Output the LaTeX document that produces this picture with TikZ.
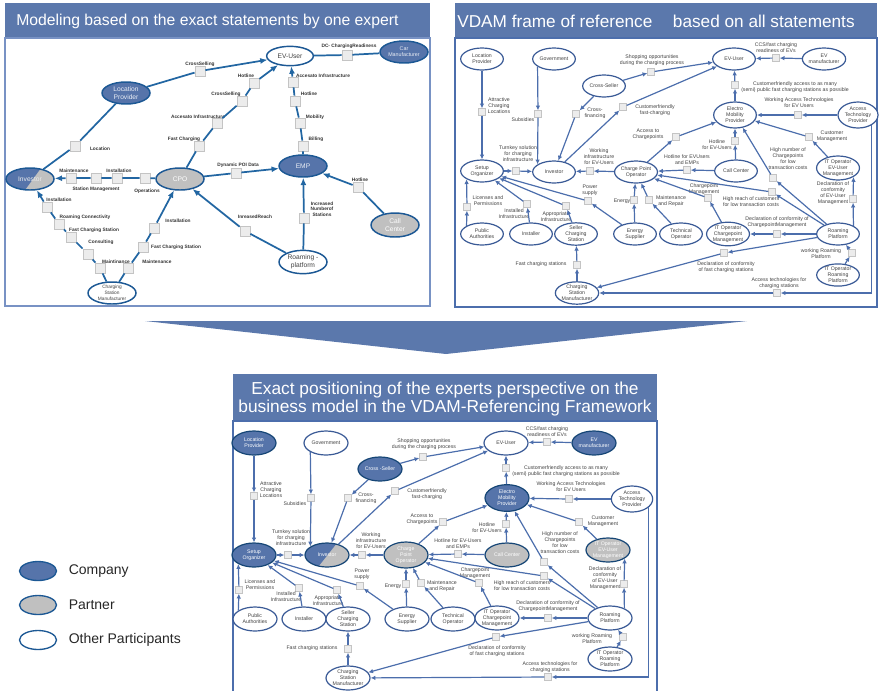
\documentclass[tikz,border=0pt]{standalone}
\usepackage{fontspec}
\setmainfont{Liberation Sans}
\usetikzlibrary{positioning,arrows.meta,calc,shapes.geometric}

\definecolor{colHdr}{RGB}{91,120,172}
\definecolor{colFrame}{RGB}{120,146,196}
\definecolor{colComp}{RGB}{86,116,170}
\definecolor{colPart}{RGB}{192,192,192}
\definecolor{colLineA}{RGB}{34,102,162}
\definecolor{colBordA}{RGB}{28,88,148}
\definecolor{colLineB}{RGB}{76,110,172}
\definecolor{colBordB}{RGB}{58,90,150}
\definecolor{colSqF}{RGB}{236,236,236}
\definecolor{colSqD}{RGB}{196,196,196}
\definecolor{colTxt}{RGB}{66,66,66}

\begin{document}
\begin{tikzpicture}[x=0.75pt, y=-0.75pt,
  ttl/.style={font=\fontsize{11.8}{14}\selectfont, text=white, inner sep=0pt, align=center},
  ndA/.style={ellipse, draw=colBordA, line width=1.1pt, fill=white, minimum width=36pt, minimum height=16.5pt, inner sep=0pt, align=center, text=colTxt, font=\fontsize{5}{5.8}\selectfont},
  compA/.style={ndA, fill=colComp, text=white!88!colComp},
  partA/.style={ndA, fill=colPart, text=white},
  splitA/.style={ndA, fill=colPart, text=white!85!gray,
    path picture={\fill[colComp] (path picture bounding box.south west) -- ($(path picture bounding box.south)+(-5,0)$) -- ($(path picture bounding box.north)+(11,0)$) -- (path picture bounding box.north west) -- cycle;}},
  sqA/.style={draw=colSqD, fill=colSqF, line width=0.6pt, minimum size=7.5pt, inner sep=0pt},
  arrA/.style={draw=colLineA, line width=1.3pt, -{Latex[length=5.5pt,width=4.5pt]}},
  lnA/.style={draw=colLineA, line width=1.3pt},
  labA/.style={font=\fontsize{3.6}{4.2}\selectfont\bfseries, text=black!80, align=center, inner sep=0pt},
  ndB/.style={ellipse, draw=colBordB, line width=0.9pt, fill=white, minimum width=32pt, minimum height=16.5pt, inner sep=0pt, align=center, text=colTxt, font=\fontsize{3.9}{4.5}\selectfont},
  ndC/.style={ndB, minimum width=33pt, minimum height=18pt},
  compC/.style={ndC, fill=colComp, draw=colBordA!80!black, text=white},
  partC/.style={ndC, fill=colPart, draw=colBordA!80!black, text=white},
  splitC/.style={ndC, fill=colPart, draw=colBordA!80!black, text=white,
    path picture={\fill[colComp] (path picture bounding box.south west) -- ($(path picture bounding box.south)+(-9,0)$) -- ($(path picture bounding box.north)+(10,0)$) -- (path picture bounding box.north west) -- cycle;}},
  sqB/.style={draw=colSqD, fill=colSqF, line width=0.5pt, minimum size=5pt, inner sep=0pt},
  arr/.style={draw=colLineB, line width=0.9pt, -{Latex[length=3.6pt,width=3.4pt]}},
  lab/.style={font=\fontsize{3.9}{4.5}\selectfont, text=colTxt, align=center, inner sep=0pt},
  legnd/.style={ellipse, draw=colBordA, line width=1pt, minimum width=27.75pt, minimum height=14.25pt},
  legtxt/.style={font=\fontsize{10.5}{12}\selectfont, text=black!85, inner sep=0pt}
]
  \useasboundingbox (0,0) rectangle (880,690);

  % Panels
  \fill[colHdr] (5,3) rectangle (430,38);
  \draw[colFrame, line width=1.1pt] (5,38) rectangle (430,306);
  \node[ttl, anchor=west] (t1) at (16,21) {Modeling based on the exact statements by one expert};
  \fill[colHdr] (455,3) rectangle (877,38);
  \draw[colLineB, line width=1.1pt] (455,38) rectangle (877,307);
  \node[ttl, font=\fontsize{12.9}{14}\selectfont] (t2) at (656,21) {VDAM frame of reference\hspace{1.2em}based on all statements};
  \fill[colHdr] (233,374) rectangle (657,421);
  \draw[colLineB, line width=1.1pt] (233,421) rectangle (657,700);
  \node[ttl, font=\fontsize{13}{13.8}\selectfont] (t3) at (445,399) {Exact positioning of the experts perspective on the\\business model in the VDAM-Referencing Framework};
  \fill[colHdr] (145,321) -- (747,321) -- (446,354) -- cycle;

  % Legend
  \node[legnd, fill=colComp] (k1) at (38,571) {};
  \node[legtxt, right=8.5pt of k1] (k1t) {Company};
  \node[legnd, fill=colPart] (k2) at (38,605) {};
  \node[legtxt, right=8.5pt of k2] (k2t) {Partner};
  \node[legnd, fill=white] (k3) at (38,640) {};
  \node[legtxt, right=8.5pt of k3] (k3t) {Other Participants};

  % One expert
  \node[ndA, minimum width=35pt, minimum height=14.5pt] (aev) at (290,56) {EV-User};
  \node[compA, font=\fontsize{4}{4.6}\selectfont] (acar) at (404,52) {Car\\Manufacturer};
  \node[compA] (alp) at (126,93) {Location\\Provider};
  \node[splitA] (ainv) at (30,179) {Investor};
  \node[partA] (acpo) at (180,179) {CPO};
  \node[compA] (aemp) at (303,166) {EMP};
  \node[partA, minimum height=18pt] (acall) at (395,225) {Call\\Center};
  \node[ndA, minimum height=17.5pt] (aroam) at (303,262) {Roaming -\\platform};
  \node[ndA, font=\fontsize{3.6}{4.3}\selectfont] (acsm) at (112,293) {Charging\\Station\\Manufacturer};

  \node[sqA] (aq1) at (200,71) {};   \node[labA] (al1) at (200,64) {CrossSelling};
  \node[sqA] (aq2) at (254,83) {};   \node[labA] (al2) at (246,76) {Hotline};
  \node[sqA] (aq3) at (242,101) {};  \node[labA] (al3) at (226,94) {CrossSelling};
  \node[sqA] (aq4) at (217,123) {};  \node[labA] (al4) at (198,117) {Accesato Infrastructure};
  \node[sqA] (aq5) at (199,146) {};  \node[labA] (al5) at (184,139) {Fast Charging};
  \node[sqA] (aq6) at (293,82) {};   \node[labA] (al6) at (323,76) {Accesato Infrastructure};
  \node[sqA] (aq7) at (295,101) {};  \node[labA] (al7) at (309,94) {Hotline};
  \node[sqA] (aq8) at (300,123) {};  \node[labA] (al8) at (315,117) {Mobility};
  \node[sqA] (aq9) at (303,146) {};  \node[labA] (al9) at (316,139) {Billing};
  \node[sqA] (aq10) at (347,55) {};  \node[labA] (al10) at (349,46) {DC- ChargingReadiness};
  \node[sqA] (aq11) at (75,146) {};  \node[labA] (al11) at (100,149) {Location};
  \node[sqA] (aq12) at (71,178) {};  \node[labA] (al12) at (74,171) {Maintenance};
  \node[sqA] (aq13) at (96,178) {};  \node[labA] (al13) at (96,189) {Station Management};
  \node[sqA] (aq14) at (117,178) {}; \node[labA] (al14) at (119,171) {Installation};
  \node[sqA] (aq15) at (145,178) {}; \node[labA] (al15) at (147,191) {Operations};
  \node[sqA] (aq16) at (236,173) {}; \node[labA] (al16) at (238,165) {Dynamic POI Data};
  \node[sqA] (aq17) at (358,187) {}; \node[labA] (al17) at (360,180) {Hotline};
  \node[sqA] (aq18) at (304,218) {}; \node[labA] (al18) at (322,209) {Increased\\Numberof\\Stations};
  \node[sqA] (aq19) at (245,231) {}; \node[labA] (al19) at (255,217) {InreasedReach};
  \node[sqA] (aq20) at (47,207) {};  \node[labA] (al20) at (59,200) {Installation};
  \node[sqA] (aq21) at (59,224) {};  \node[labA] (al21) at (85,217) {Roaming Connectivity};
  \node[sqA] (aq22) at (71,237) {};  \node[labA] (al22) at (94,230) {Fast Charging Station};
  \node[sqA] (aq23) at (88,254) {};  \node[labA] (al23) at (101,242) {Consulting};
  \node[sqA] (aq24) at (100,268) {}; \node[labA] (al24) at (116,262) {Maintinance};
  \node[sqA] (aq25) at (128,268) {}; \node[labA] (al25) at (157,262) {Maintenance};
  \node[sqA] (aq26) at (143,247) {}; \node[labA] (al26) at (176,247) {Fast Charging Station};
  \node[sqA] (aq27) at (154,228) {}; \node[labA] (al27) at (178,221) {Installation};

  \draw[arrA] (alp) -- (aq1) -- (aev);
  \draw[arrA] (acpo) -- (aq5) -- (aq4) -- (aq3) -- (aq2) -- (aev);
  \draw[arrA] (aemp) -- (aq9) -- (aq8) -- (aq7) -- (aq6) -- (aev);
  \draw[lnA] (acar) -- (aq10) -- (aev);
  \draw[lnA] (alp) -- (aq11) -- (ainv);
  \draw[arrA] (acpo) -- (aq15) -- (aq14) -- (aq13) -- (aq12) -- (ainv);
  \draw[arrA] (acpo) -- (aq16) -- (aemp);
  \draw[arrA] (acall) -- (aq17) -- (aemp);
  \draw[arrA] (aroam) -- (aq18) -- (aemp);
  \draw[arrA] (aroam) -- (aq19) -- (acpo);
  \draw[arrA] (acsm) -- (aq24) -- (aq23) -- (aq22) -- (aq21) -- (aq20) -- (ainv);
  \draw[arrA] (acsm) -- (aq25) -- (aq26) -- (aq27) -- (acpo);

  % VDAM frame
  \node[ndB] (blp) at (482,59) {Location\\Provider};
  \node[ndB] (bgov) at (554,59) {Government};
  \node[ndB] (bcs) at (604,86) {Cross-Seller};
  \node[ndB] (bev) at (734,59) {EV-User};
  \node[ndB] (bevm) at (824,59) {EV\\manufacturer};
  \node[ndB, minimum height=19.5pt] (bemp) at (735,115) {Electro\\Mobility\\Provider};
  \node[ndB, minimum width=30pt, minimum height=19.5pt] (batp) at (858,115) {Access\\Technology\\Provider};
  \node[ndB, minimum height=18pt] (bitev) at (838,168) {IT Operator\\EV-User\\Management};
  \node[ndB] (bcall) at (736,171) {Call Center};
  \node[ndB] (bso) at (482,171) {Setup\\Organizer};
  \node[ndB] (binv) at (554,172) {Investor};
  \node[ndB] (bcpo) at (636,172) {Charge Point\\Operator};
  \node[ndB] (bpa) at (482,234) {Public\\Authorities};
  \node[ndB] (binst) at (531,234) {Installer};
  \node[ndB] (bscs) at (576,234) {Seller\\Charging\\Station};
  \node[ndB] (bes) at (635,234) {Energy\\Supplier};
  \node[ndB] (bto) at (681,234) {Technical\\Operator};
  \node[ndB] (bitcm) at (728,234) {IT Operator\\Chargepoint\\Management};
  \node[ndB] (brp) at (838,234) {Roaming\\Platform};
  \node[ndB] (bitrp) at (838,275) {IT Operator\\Roaming\\Platform};
  \node[ndB] (bcsm) at (577,293) {Charging\\Station\\Manufacturer};

  \node[sqB] (b1) at (482,112) {};  \node[lab] (bl1) at (499,106) {Attractive\\Charging\\Locations};
  \node[sqB] (b2) at (538,114) {};  \node[lab] (bl2) at (523,120) {Subsidies};
  \node[sqB] (b3) at (576,114) {};  \node[lab] (bl3) at (595,113) {Cross-\\financing};
  \node[sqB] (b4) at (651,72) {};   \node[lab] (bl4) at (652,60) {Shopping opportunities\\during the charging process};
  \node[sqB] (b5) at (623,107) {};  \node[lab] (bl5) at (655,110) {Customerfriendly\\fast-charging};
  \node[sqB] (b6) at (776,58) {};   \node[lab] (bl6) at (776,48) {CCS/fast charging\\readiness of EVs};
  \node[sqB] (b7) at (735,85) {};   \node[lab] (bl7) at (795,87) {Customerfriendly access to as many\\(semi) public fast charging stations as possible};
  \node[sqB] (b8) at (798,115) {};  \node[lab] (bl8) at (799,103) {Working Access Technologies\\for EV Users};
  \node[sqB] (b9) at (809,137) {};  \node[lab] (bl9) at (832,136) {Customer\\Management};
  \node[sqB] (b10) at (735,141) {}; \node[lab] (bl10) at (717,145) {Hotline\\for EV-Users};
  \node[sqB] (b11) at (676,137) {}; \node[lab] (bl11) at (648,134) {Access to\\Chargepoints};
  \node[sqB] (b12) at (773,178) {}; \node[lab] (bl12) at (788,159) {High number of\\Chargepoints\\for low\\transaction costs};
  \node[sqB] (b13) at (772,192) {}; \node[lab] (bl13) at (751,202) {High reach of customers\\for low transaction costs};
  \node[sqB] (b14) at (687,170) {}; \node[lab] (bl14) at (687,160) {Hotline for EVUsers\\and EMPs};
  \node[sqB] (b15) at (590,171) {}; \node[lab] (bl15) at (599,157) {Working\\infrastructure\\for EV-Users};
  \node[sqB] (b16) at (516,171) {}; \node[lab] (bl16) at (518,154) {Turnkey solution\\for charging\\infrastructure};
  \node[sqB] (b17) at (467,207) {}; \node[lab] (bl17) at (488,201) {Licenses and\\Permissions};
  \node[sqB] (b18) at (527,204) {}; \node[lab] (bl18) at (514,214) {Installed\\Infrastructure};
  \node[sqB] (b19) at (566,206) {}; \node[lab] (bl19) at (556,217) {Appropriate\\Infrastructure};
  \node[sqB] (b20) at (588,201) {}; \node[lab] (bl20) at (590,190) {Power\\supply};
  \node[sqB] (b21) at (634,200) {}; \node[lab] (bl21) at (622,201) {Energy};
  \node[sqB] (b22) at (649,200) {}; \node[lab] (bl22) at (671,201) {Maintenance\\and Repair};
  \node[sqB] (b23) at (708,198) {}; \node[lab] (bl23) at (704,189) {Chargepoint\\Management};
  \node[sqB] (b24) at (777,234) {}; \node[lab] (bl24) at (777,222) {Declaration of conformity of\\ChargepointManagement};
  \node[sqB] (b25) at (853,199) {}; \node[lab] (bl25) at (833,193) {Declaration of\\conformity\\of EV-User\\Management};
  \node[sqB] (b26) at (852,253) {}; \node[lab] (bl26) at (821,254) {working Roaming\\Platform};
  \node[sqB] (b27) at (724,253) {}; \node[lab] (bl27) at (726,267) {Declaration of conformity\\of fast charging stations};
  \node[sqB] (b28) at (777,293) {}; \node[lab] (bl28) at (779,283) {Access technologies for\\charging stations};
  \node[sqB] (b29) at (577,265) {}; \node[lab] (bl29) at (541,264) {Fast charging stations};

  \draw[arr] (blp) -- (b1);  \draw[arr] (b1) -- (bso);
  \draw[arr] (bgov.205) -- (b2);  \draw[arr] (b2) -- (binv.155);
  \draw[arr] (bcs) -- (b3);  \draw[arr] (b3) -- (binv);
  \draw[arr] (bcs) -- (b4);  \draw[arr] (b4) -- (bev);
  \draw[arr] (binv) -- (b5);  \draw[arr] (b5) -- (bev);
  \draw[arr] (bevm) -- (b6);  \draw[arr] (b6) -- (bev);
  \draw[arr] (bemp) -- (b7);  \draw[arr] (b7) -- (bev);
  \draw[arr] (batp) -- (b8);  \draw[arr] (b8) -- (bemp);
  \draw[arr] (bitev) -- (b9);  \draw[arr] (b9) -- (bemp);
  \draw[arr] (bcall) -- (b10);  \draw[arr] (b10) -- (bemp);
  \draw[arr] (bcpo) -- (b11);  \draw[arr] (b11) -- (bemp);
  \draw[arr] (brp) -- (b12);  \draw[arr] (b12) -- (bemp);
  \draw[arr] (brp) -- (b13);  \draw[arr] (b13) -- (bcpo);
  \draw[arr] (bcall) -- (b14);  \draw[arr] (b14) -- (bcpo);
  \draw[arr] (bcpo) -- (b15);  \draw[arr] (b15) -- (binv);
  \draw[arr] (bso) -- (b16);  \draw[arr] (b16) -- (binv);
  \draw[arr] (bpa.152) -- (b17);  \draw[arr] (b17) -- (bso.208);
  \draw[arr] (binst) -- (b18);  \draw[arr] (b18) -- (bso);
  \draw[arr] (bscs) -- (b19);  \draw[arr] (b19) -- (bso);
  \draw[arr] (bes) -- (b20);  \draw[arr] (b20) -- (bso);
  \draw[arr] (bes) -- (b21);  \draw[arr] (b21) -- (bcpo);
  \draw[arr] (bto) -- (b22);  \draw[arr] (b22) -- (bcpo);
  \draw[arr] (bitcm) -- (b23);  \draw[arr] (b23) -- (bcpo);
  \draw[arr] (brp) -- (b24);  \draw[arr] (b24) -- (bitcm);
  \draw[arr] (brp.28) -- (b25);  \draw[arr] (b25) -- (bitev.-30);
  \draw[arr] (bitrp) -- (b26);  \draw[arr] (b26) -- (brp);
  \draw[arr] (brp) -- (b27);  \draw[arr] (b27) -- (bcsm);
  \draw[arr] (batp.-37) |- (b28);  \draw[arr] (b28) -- (bcsm);
  \draw[arr] (bcsm) -- (b29);  \draw[arr] (b29) -- (bscs);

  % Positioning in the VDAM framework
  \node[compC] (clp) at (254,443) {Location\\Provider};
  \node[ndC] (cgov) at (326,443) {Government};
  \node[compC] (ccs) at (380,469) {Cross -Seller};
  \node[ndC] (cev) at (506,443) {EV-User};
  \node[compC] (cevm) at (594,443) {EV\\manufacturer};
  \node[compC, minimum height=20pt] (cemp) at (507,498) {Electro\\Mobility\\Provider};
  \node[ndC, minimum width=31pt, minimum height=19.5pt] (catp) at (632,499) {Access\\Technology\\Provider};
  \node[partC] (citev) at (608,550) {IT Operator\\EV-User\\Management};
  \node[partC] (ccall) at (507,555) {Call Center};
  \node[compC] (cso) at (254,555) {Setup\\Organizer};
  \node[splitC] (cinv) at (327,555) {Investor};
  \node[partC, minimum height=19.5pt] (ccpo) at (406,555) {Charge\\Point\\Operator};
  \node[ndC] (cpa) at (255,619) {Public\\Authorities};
  \node[ndC] (cinst) at (304,619) {Installer};
  \node[ndC] (cscs) at (348,619) {Seller\\Charging\\Station};
  \node[ndC] (ces) at (407,619) {Energy\\Supplier};
  \node[ndC] (cto) at (453,619) {Technical\\Operator};
  \node[ndC] (citcm) at (497,618) {IT Operator\\Chargepoint\\Management};
  \node[ndC] (crp) at (610,618) {Roaming\\Platform};
  \node[ndC] (citrp) at (610,659) {IT Operator\\Roaming\\Platform};
  \node[ndC] (ccsm) at (348,678) {Charging\\Station\\Manufacturer};

  \node[sqB] (c1) at (254,496) {};  \node[lab] (cl1) at (271,490) {Attractive\\Charging\\Locations};
  \node[sqB] (c2) at (311,498) {};  \node[lab] (cl2) at (295,504) {Subsidies};
  \node[sqB] (c3) at (348,498) {};  \node[lab] (cl3) at (366,498) {Cross-\\financing};
  \node[sqB] (c4) at (423,457) {};  \node[lab] (cl4) at (424,444) {Shopping opportunities\\during the charging process};
  \node[sqB] (c5) at (395,491) {};  \node[lab] (cl5) at (427,494) {Customerfriendly\\fast-charging};
  \node[sqB] (c6) at (443,522) {};  \node[lab] (cl6) at (422,519) {Access to\\Chargepoints};
  \node[sqB] (c7) at (362,555) {};  \node[lab] (cl7) at (371,541) {Working\\infrastructure\\for EV-Users};
  \node[sqB] (c8) at (288,555) {};  \node[lab] (cl8) at (291,538) {Turnkey solution\\for charging\\infrastructure};
  \node[sqB] (c9) at (547,442) {};  \node[lab] (cl9) at (547,432) {CCS/fast charging\\readiness of EVs};
  \node[sqB] (c10) at (506,468) {}; \node[lab] (cl10) at (566,471) {Customerfriendly access to as many\\(semi) public fast charging stations as possible};
  \node[sqB] (c11) at (569,499) {}; \node[lab] (cl11) at (571,487) {Working Access Technologies\\for EV Users};
  \node[sqB] (c12) at (579,522) {}; \node[lab] (cl12) at (603,521) {Customer\\Management};
  \node[sqB] (c13) at (506,524) {}; \node[lab] (cl13) at (487,528) {Hotline\\for EV-Users};
  \node[sqB] (c14) at (544,562) {}; \node[lab] (cl14) at (560,543) {High number of\\Chargepoints\\for low\\transaction costs};
  \node[sqB] (c15) at (458,554) {}; \node[lab] (cl15) at (458,544) {Hotline for EV-Users\\and EMPs};
  \node[sqB] (c16) at (544,576) {}; \node[lab] (cl16) at (522,586) {High reach of customers\\for low transaction costs};
  \node[sqB] (c17) at (479,583) {}; \node[lab] (cl17) at (475,573) {Chargepoint\\Management};
  \node[sqB] (c18) at (421,583) {}; \node[lab] (cl18) at (442,586) {Maintenance\\and Repair};
  \node[sqB] (c19) at (406,584) {}; \node[lab] (cl19) at (393,586) {Energy};
  \node[sqB] (c20) at (360,586) {}; \node[lab] (cl20) at (362,574) {Power\\supply};
  \node[sqB] (c21) at (337,590) {}; \node[lab] (cl21) at (328,601) {Appropriate\\Infrastructure};
  \node[sqB] (c22) at (299,588) {}; \node[lab] (cl22) at (286,597) {Installed\\Infrastructure};
  \node[sqB] (c23) at (239,590) {}; \node[lab] (cl23) at (260,585) {Licenses and\\Permissions};
  \node[sqB] (c24) at (348,649) {}; \node[lab] (cl24) at (312,648) {Fast charging stations};
  \node[sqB] (c25) at (548,618) {}; \node[lab] (cl25) at (548,606) {Declaration of conformity of\\ChargepointManagement};
  \node[sqB] (c26) at (624,584) {}; \node[lab] (cl26) at (605,578) {Declaration of\\conformity\\of EV-User\\Management};
  \node[sqB] (c27) at (623,637) {}; \node[lab] (cl27) at (592,639) {working Roaming\\Platform};
  \node[sqB] (c28) at (496,637) {}; \node[lab] (cl28) at (497,651) {Declaration of conformity\\of fast charging stations};
  \node[sqB] (c29) at (548,677) {}; \node[lab] (cl29) at (550,667) {Access technologies for\\charging stations};

  \draw[arr] (clp) -- (c1);  \draw[arr] (c1) -- (cso);
  \draw[arr] (cgov.210) -- (c2);  \draw[arr] (c2) -- (cinv.153);
  \draw[arr] (ccs) -- (c3);  \draw[arr] (c3) -- (cinv);
  \draw[arr] (ccs) -- (c4);  \draw[arr] (c4) -- (cev);
  \draw[arr] (cinv) -- (c5);  \draw[arr] (c5) -- (cev);
  \draw[arr] (cevm) -- (c9);  \draw[arr] (c9) -- (cev);
  \draw[arr] (cemp) -- (c10);  \draw[arr] (c10) -- (cev);
  \draw[arr] (catp) -- (c11);  \draw[arr] (c11) -- (cemp);
  \draw[arr] (citev) -- (c12);  \draw[arr] (c12) -- (cemp);
  \draw[arr] (ccall) -- (c13);  \draw[arr] (c13) -- (cemp);
  \draw[arr] (ccpo) -- (c6);  \draw[arr] (c6) -- (cemp);
  \draw[arr] (crp) -- (c14);  \draw[arr] (c14) -- (cemp);
  \draw[arr] (crp) -- (c16);  \draw[arr] (c16) -- (ccpo);
  \draw[arr] (ccall) -- (c15);  \draw[arr] (c15) -- (ccpo);
  \draw[arr] (ccpo) -- (c7);  \draw[arr] (c7) -- (cinv);
  \draw[arr] (cso) -- (c8);  \draw[arr] (c8) -- (cinv);
  \draw[arr] (cpa.153) -- (c23);  \draw[arr] (c23) -- (cso.210);
  \draw[arr] (cinst) -- (c22);  \draw[arr] (c22) -- (cso);
  \draw[arr] (cscs) -- (c21);  \draw[arr] (c21) -- (cso);
  \draw[arr] (ces) -- (c20);  \draw[arr] (c20) -- (cso);
  \draw[arr] (ces) -- (c19);  \draw[arr] (c19) -- (ccpo);
  \draw[arr] (cto) -- (c18);  \draw[arr] (c18) -- (ccpo);
  \draw[arr] (citcm) -- (c17);  \draw[arr] (c17) -- (ccpo);
  \draw[arr] (crp) -- (c25);  \draw[arr] (c25) -- (citcm);
  \draw[arr] (crp.34) -- (c26);  \draw[arr] (c26) -- (citev.-27);
  \draw[arr] (citrp) -- (c27);  \draw[arr] (c27) -- (crp);
  \draw[arr] (crp) -- (c28);  \draw[arr] (c28) -- (ccsm);
  \draw[arr] (catp.-27) |- (c29);  \draw[arr] (c29) -- (ccsm);
  \draw[arr] (ccsm) -- (c24);  \draw[arr] (c24) -- (cscs);
\end{tikzpicture}
\end{document}
